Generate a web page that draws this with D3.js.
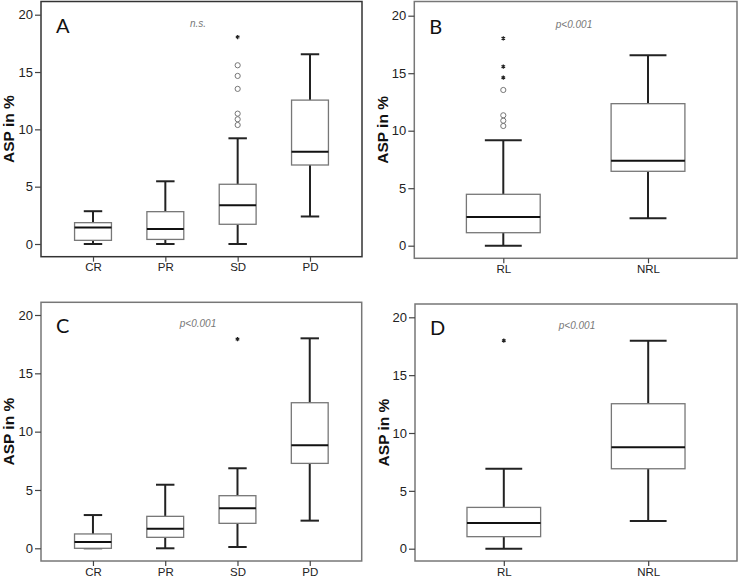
<!DOCTYPE html>
<html>
<head>
<meta charset="utf-8">
<script src="https://cdn.jsdelivr.net/npm/d3@7"></script>
<style>
  html, body { margin: 0; padding: 0; background: #fff; }
  svg { display: block; }
</style>
</head>
<body>
<svg id="chart" width="740" height="579"></svg>
<script>
// ---------- DATA ----------
const yTicks = [0, 5, 10, 15, 20];
const yLabel = "ASP in %";

// Panel A
const catsA = ["CR", "PR", "SD", "PD"];
const minA = [0.0, 0.0, 0.0, 2.4];
const q1A  = [0.32, 0.4, 1.72, 6.89];
const medA = [1.43, 1.31, 3.38, 8.05];
const q3A  = [1.86, 2.82, 5.21, 12.55];
const maxA = [2.86, 5.47, 9.22, 16.55];
const circlesA = [[], [], [10.38, 10.88, 11.37, 13.53, 14.66, 15.59], []];
const starsA   = [[], [], [18.05], []];
const letterA = "A", statA = "n.s.";

// Panel B
const catsB = ["RL", "NRL"];
const minB = [0.0, 2.38];
const q1B  = [1.13, 6.47];
const medB = [2.5, 7.39];
const q3B  = [4.47, 12.35];
const maxB = [9.17, 16.56];
const circlesB = [[10.41, 10.87, 11.34, 13.54], []];
const starsB   = [[14.61, 15.57, 18.03], []];
const letterB = "B", statB = "p<0.001";

// Panel C
const catsC = ["CR", "PR", "SD", "PD"];
const minC = [0.0, 0.0, 0.11, 2.37];
const q1C  = [0.0, 0.94, 2.14, 7.28];
const medC = [0.54, 1.68, 3.43, 8.83];
const q3C  = [1.23, 2.74, 4.51, 12.48];
const maxC = [2.85, 5.45, 6.86, 18.0];
const circlesC = [[], [], [], []];
const starsC   = [[], [], [17.93], []];
const letterC = "C", statC = "p<0.001";

// Panel D
const catsD = ["RL", "NRL"];
const minD = [0.0, 2.39];
const q1D  = [1.04, 6.91];
const medD = [2.22, 8.76];
const q3D  = [3.57, 12.53];
const maxD = [6.91, 17.98];
const circlesD = [[], []];
const starsD   = [[17.98], []];
const letterD = "D", statD = "p<0.001";

// ---------- LAYOUT ----------
const svg = d3.select("#chart");

const panels = [
  { cats: catsA, min: minA, q1: q1A, med: medA, q3: q3A, max: maxA, circ: circlesA, stars: starsA,
    letter: letterA, stat: statA, x0: 41, x1: 362, top: 1.5, bottom: 256.7, yz: 244, yt: 14.7,
    pad: 0.719, frame: "#333", statX: 198, labelX: 9 },
  { cats: catsB, min: minB, q1: q1B, med: medB, q3: q3B, max: maxB, circ: circlesB, stars: starsB,
    letter: letterB, stat: statB, x0: 414.3, x1: 737, top: 1.5, bottom: 258.3, yz: 245.7, yt: 15.7,
    pad: 0.615, frame: "#777", statX: 574, labelX: 383 },
  { cats: catsC, min: minC, q1: q1C, med: medC, q3: q3C, max: maxC, circ: circlesC, stars: starsC,
    letter: letterC, stat: statC, x0: 41, x1: 361.7, top: 302.3, bottom: 561, yz: 548.3, yt: 315,
    pad: 0.719, frame: "#777", statX: 198, labelX: 9 },
  { cats: catsD, min: minD, q1: q1D, med: medD, q3: q3D, max: maxD, circ: circlesD, stars: starsD,
    letter: letterD, stat: statD, x0: 415, x1: 737, top: 304, bottom: 561, yz: 548.7, yt: 317.3,
    pad: 0.615, frame: "#777", statX: 577, labelX: 384 }
];

const starSym = d3.symbolAsterisk || d3.symbolCross;

panels.forEach(p => {
  const g = svg.append("g");
  const x = d3.scalePoint().domain(p.cats).range([p.x0, p.x1]).padding(p.pad);
  const y = d3.scaleLinear().domain([0, 20]).range([p.yz, p.yt]);
  const bw = x.step() * 0.51;
  const cw = bw / 2;

  // frame
  g.append("rect")
    .attr("x", p.x0).attr("y", p.top)
    .attr("width", p.x1 - p.x0).attr("height", p.bottom - p.top)
    .attr("fill", "none").attr("stroke", p.frame).attr("stroke-width", 1.5);

  // y axis
  const yAxis = g.append("g")
    .attr("transform", `translate(${p.x0},0)`)
    .call(d3.axisLeft(y).tickValues(yTicks).tickSize(6).tickPadding(2).tickFormat(d3.format("d")));
  yAxis.select(".domain").remove();
  yAxis.selectAll(".tick line").attr("stroke", "#444").attr("stroke-width", 1.2);
  yAxis.selectAll(".tick text")
    .attr("font-family", "Liberation Sans, Arial, sans-serif")
    .attr("font-size", 13).attr("fill", "#222");

  // x axis
  const xAxis = g.append("g")
    .attr("transform", `translate(0,${p.bottom})`)
    .call(d3.axisBottom(x).tickSize(5).tickPadding(1.5));
  xAxis.select(".domain").remove();
  xAxis.selectAll(".tick line").attr("stroke", "#444").attr("stroke-width", 1.2);
  xAxis.selectAll(".tick text")
    .attr("font-family", "Liberation Sans, Arial, sans-serif")
    .attr("font-size", 11.5).attr("fill", "#222");

  // y label
  g.append("text")
    .attr("transform", `translate(${p.labelX + 5},${(p.top + p.bottom) / 2}) rotate(-90)`)
    .attr("text-anchor", "middle")
    .attr("font-family", "Liberation Sans, Arial, sans-serif")
    .attr("font-weight", "bold").attr("font-size", 15.5).attr("fill", "#111")
    .text(yLabel);

  // panel letter
  g.append("text")
    .attr("x", p.x0 + 15).attr("y", y(20) + 18)
    .attr("font-family", "Lato, Open Sans, sans-serif")
    .attr("font-size", 20).attr("fill", "#111")
    .text(p.letter);

  // stat text
  g.append("text")
    .attr("x", p.statX).attr("y", y(20) + 12)
    .attr("text-anchor", "middle")
    .attr("font-family", "Liberation Sans, Arial, sans-serif")
    .attr("font-style", "italic").attr("font-size", 10).attr("fill", "#777")
    .text(p.stat);

  const idx = d3.range(p.cats.length);

  // whiskers
  g.selectAll(".wl").data(idx).join("line")
    .attr("x1", i => x(p.cats[i])).attr("x2", i => x(p.cats[i]))
    .attr("y1", i => y(p.min[i])).attr("y2", i => y(p.q1[i]))
    .attr("stroke", "#222").attr("stroke-width", 2);
  g.selectAll(".wh").data(idx).join("line")
    .attr("x1", i => x(p.cats[i])).attr("x2", i => x(p.cats[i]))
    .attr("y1", i => y(p.q3[i])).attr("y2", i => y(p.max[i]))
    .attr("stroke", "#222").attr("stroke-width", 2);
  // caps
  g.selectAll(".cl").data(idx).join("line")
    .attr("x1", i => x(p.cats[i]) - cw / 2).attr("x2", i => x(p.cats[i]) + cw / 2)
    .attr("y1", i => y(p.min[i])).attr("y2", i => y(p.min[i]))
    .attr("stroke", "#222").attr("stroke-width", 2);
  g.selectAll(".ch").data(idx).join("line")
    .attr("x1", i => x(p.cats[i]) - cw / 2).attr("x2", i => x(p.cats[i]) + cw / 2)
    .attr("y1", i => y(p.max[i])).attr("y2", i => y(p.max[i]))
    .attr("stroke", "#222").attr("stroke-width", 2);

  // boxes
  g.selectAll(".box").data(idx).join("rect")
    .attr("x", i => x(p.cats[i]) - bw / 2)
    .attr("y", i => y(p.q3[i]))
    .attr("width", bw)
    .attr("height", i => y(p.q1[i]) - y(p.q3[i]))
    .attr("fill", "#fff").attr("stroke", "#777").attr("stroke-width", 1.3);

  // medians
  g.selectAll(".med").data(idx).join("line")
    .attr("x1", i => x(p.cats[i]) - bw / 2).attr("x2", i => x(p.cats[i]) + bw / 2)
    .attr("y1", i => y(p.med[i])).attr("y2", i => y(p.med[i]))
    .attr("stroke", "#111").attr("stroke-width", 2);

  // outlier circles
  const circ = [];
  p.circ.forEach((arr, i) => arr.forEach(v => circ.push({ c: p.cats[i], v })));
  g.selectAll(".oc").data(circ).join("circle")
    .attr("cx", d => x(d.c)).attr("cy", d => y(d.v)).attr("r", 2.6)
    .attr("fill", "none").attr("stroke", "#777").attr("stroke-width", 1);

  // extreme stars
  const st = [];
  p.stars.forEach((arr, i) => arr.forEach(v => st.push({ c: p.cats[i], v })));
  g.selectAll(".os").data(st).join("path")
    .attr("transform", d => `translate(${x(d.c)},${y(d.v)})`)
    .attr("d", d3.symbol(starSym, 12))
    .attr("fill", "none").attr("stroke", "#222").attr("stroke-width", 1.2);
});
</script>
</body>
</html>
